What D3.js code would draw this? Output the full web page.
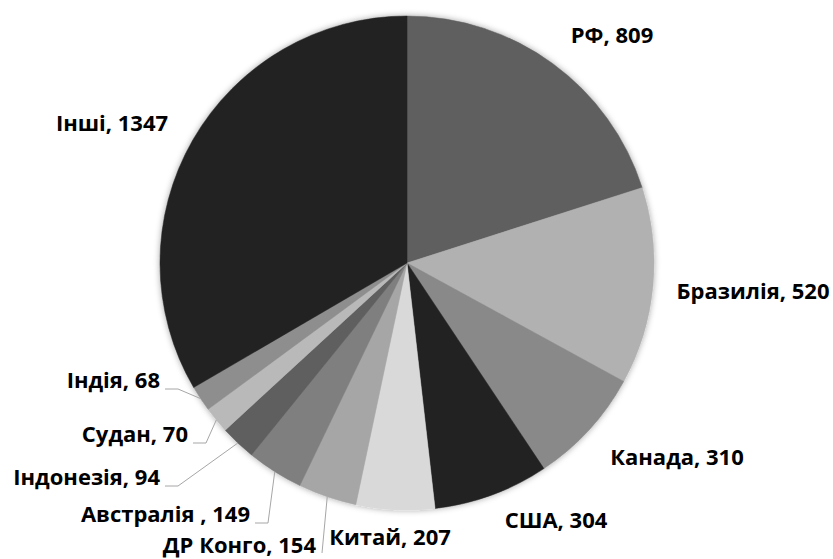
<!DOCTYPE html>
<html>
<head>
<meta charset="utf-8">
<script src="https://cdn.jsdelivr.net/npm/d3@7"></script>
<style>
  body { margin: 0; background: #fff; }
  text { font-family: "Open Sans", "DejaVu Sans", sans-serif; font-weight: bold; font-size: 22px; fill: #000; }
</style>
</head>
<body>
<div id="chart"></div>
<script>

// data
var countries = ["РФ", "Бразилія", "Канада", "США", "Китай", "ДР Конго", "Австралія ", "Індонезія", "Судан", "Індія", "Інші"];
var values = [809, 520, 310, 304, 207, 154, 149, 94, 70, 68, 1347];
var sliceColors = ["#5f5f5f", "#b1b1b1", "#898989", "#222222", "#d9d9d9", "#a6a6a6", "#7f7f7f", "#5e5e5e", "#b9b9b9", "#8e8e8e", "#222222"];

// label layout: x, baseline y, anchor, leader (true = draw line to slice)
var labelLayout = [
    { x: 612, y: 43, anchor: "middle" },
    { x: 753, y: 299, anchor: "middle" },
    { x: 677, y: 465, anchor: "middle" },
    { x: 556, y: 528, anchor: "middle" },
    { x: 390, y: 545, anchor: "middle" },
    { x: 316, y: 553, anchor: "end", leader: "up" },
    { x: 250, y: 522, anchor: "end", leader: "elbow" },
    { x: 160, y: 485, anchor: "end", leader: "elbow" },
    { x: 188, y: 442, anchor: "end", leader: "elbow" },
    { x: 160, y: 388, anchor: "end", leader: "elbow" },
    { x: 112, y: 131, anchor: "middle" }
];

var width = 833, height = 559;
var cx = 407, cy = 263, radius = 247;

var svg = d3.select("#chart").append("svg")
    .attr("width", width)
    .attr("height", height);

// soft shadow round the pie
var filter = svg.append("defs").append("filter")
    .attr("id", "shadow")
    .attr("x", "-10%").attr("y", "-10%")
    .attr("width", "120%").attr("height", "120%");
filter.append("feDropShadow")
    .attr("dx", 0).attr("dy", 0)
    .attr("stdDeviation", 3)
    .attr("flood-color", "#000")
    .attr("flood-opacity", 0.35);

var g = svg.append("g")
    .attr("transform", "translate(" + cx + "," + cy + ")");

var pie = d3.pie()
    .value(function(d) { return d; })
    .sort(null);

var arcs = pie(values);

var arc = d3.arc()
    .innerRadius(0)
    .outerRadius(radius);

var color = d3.scaleOrdinal()
    .domain(countries)
    .range(sliceColors);

g.append("g")
    .attr("filter", "url(#shadow)")
    .selectAll("path")
    .data(arcs)
    .enter().append("path")
    .attr("d", arc)
    .attr("fill", function(d, i) { return color(countries[i]); })
    .attr("stroke", function(d, i) { return color(countries[i]); })
    .attr("stroke-width", 0.5);

// point on the rim at the middle of a slice (page coords)
function rimPoint(d) {
    var a = (d.startAngle + d.endAngle) / 2;
    return [cx + radius * Math.sin(a), cy - radius * Math.cos(a)];
}

var line = d3.line();

// leader lines
arcs.forEach(function(d, i) {
    var lab = labelLayout[i];
    if (!lab.leader) return;
    var p = rimPoint(d);
    var pts;
    if (lab.leader === "up") {
        pts = [p, [lab.x + 6, lab.y]];
    } else {
        var ly = lab.y + 1;
        pts = [p, [lab.x + 18, ly], [lab.x + 5, ly]];
    }
    svg.append("path")
        .attr("d", line(pts))
        .attr("fill", "none")
        .attr("stroke", "#a6a6a6")
        .attr("stroke-width", 1);
});

// labels
svg.selectAll(".label")
    .data(arcs)
    .enter().append("text")
    .attr("class", "label")
    .attr("x", function(d, i) { return labelLayout[i].x; })
    .attr("y", function(d, i) { return labelLayout[i].y; })
    .attr("text-anchor", function(d, i) { return labelLayout[i].anchor; })
    .text(function(d, i) { return countries[i] + ", " + values[i]; });

</script>
</body>
</html>
